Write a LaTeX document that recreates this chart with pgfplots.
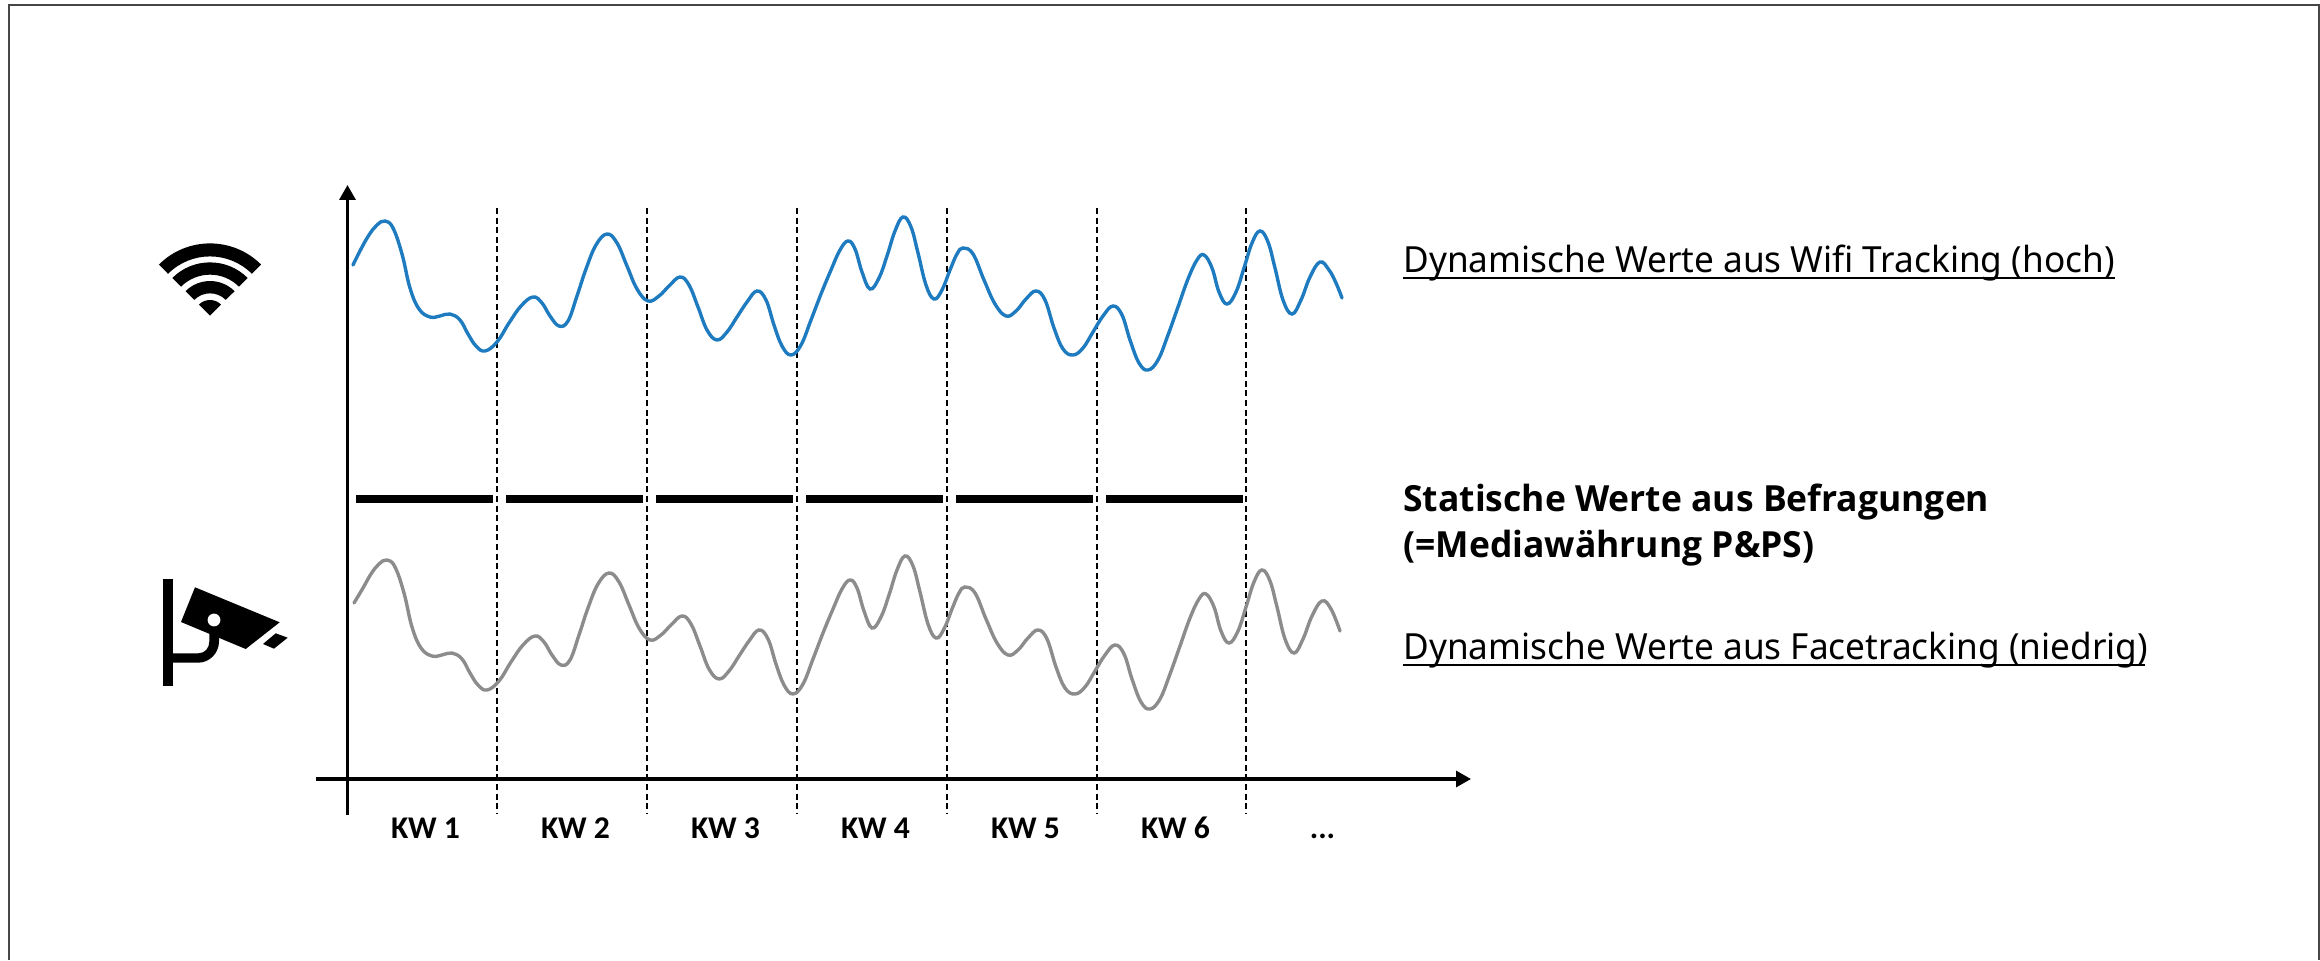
\documentclass[border=0pt]{standalone}
\usepackage{fontspec}
\usepackage{pgfplots}
\usepackage{pgfplotstable}
\pgfplotsset{compat=1.18}
\usetikzlibrary{arrows.meta}
\setmainfont{Noto Sans}
\newfontfamily\labelfont[FakeStretch=0.978]{Noto Sans}
\newfontfamily\headfont[FakeStretch=0.985]{Open Sans}
\newfontfamily\kwfont{Carlito}
\definecolor{wifiblue}{HTML}{1F7BBF}
\definecolor{facegray}{HTML}{8C8C8C}

% Weekly audience curve measured by wifi tracking
\pgfplotstableread{
x y
353 265
361 249
369 235
377 225
385 221
393 228
402 254
410 288
419 309
430 317
440 316
450 314
460 320
468 334
476 346
485 351
497 342
509 323
521 306
533 297
542 303
550 316
559 326
568 321
577 296
586 269
596 245
607 234
617 243
627 266
637 289
648 301
659 296
669 286
680 277
689 285
698 307
707 330
717 340
727 332
737 317
747 302
757 291
766 300
774 325
782 346
791 355
801 345
811 320
821 294
831 270
840 250
848 241
855 249
862 272
870 289
879 278
887 256
895 231
903 217
911 227
918 253
926 285
934 299
942 290
950 270
957 254
963 248
973 254
984 280
995 304
1006 316
1016 311
1026 299
1036 291
1045 300
1054 328
1063 349
1073 355
1083 348
1093 332
1103 316
1113 306
1122 315
1130 340
1139 363
1148 370
1158 360
1168 335
1178 307
1188 279
1197 260
1204 255
1212 268
1219 292
1227 304
1236 292
1244 268
1252 243
1260 231
1268 242
1275 268
1283 300
1292 314
1301 300
1310 277
1320 262
1329 270
1336 283
1342 298
}\wifitable

% Weekly audience curve measured by face tracking
\pgfplotstableread{
x y
354 603
363 588
371 574
379 564
387 560
395 567
404 593
412 627
421 648
432 656
442 655
452 653
462 659
470 673
478 685
487 690
499 681
511 662
523 645
535 636
544 642
552 655
561 665
570 660
579 635
588 608
598 584
609 573
619 582
629 605
639 628
650 640
661 635
671 625
682 616
691 624
700 646
709 669
719 679
729 671
739 656
749 641
759 630
768 639
776 664
784 685
793 694
803 684
813 659
823 633
833 609
842 589
850 580
857 588
864 611
872 628
881 617
889 595
897 570
905 556
913 566
920 592
928 624
936 638
944 629
952 609
959 593
965 587
975 593
986 619
997 643
1008 655
1018 650
1028 638
1038 630
1047 639
1056 667
1065 688
1075 694
1085 687
1095 671
1105 655
1115 645
1124 654
1132 679
1141 702
1150 709
1160 699
1170 674
1180 646
1190 618
1199 599
1206 594
1214 607
1221 631
1229 643
1238 631
1246 607
1254 582
1262 570
1270 581
1277 607
1285 639
1294 653
1303 639
1312 616
1322 601
1331 609
1340 631
}\facetable

% One band of the wifi symbol: outer radius, its offset, inner radius, its offset
\newcommand{\wifiband}[4]{%
  \fill (axis cs:{210-#2},{315.7-#2}) arc[start angle=135,end angle=45,radius=#1*0.5pt]
    -- (axis cs:{210+#4},{315.7-#4}) arc[start angle=45,end angle=135,radius=#3*0.5pt] -- cycle;}
% Week label on the common baseline
\newcommand{\weeklabel}[2]{%
  \node[anchor=base, inner sep=0pt, font=\kwfont\bfseries\fontsize{15.8}{18}\selectfont] at (axis cs:#1,838.5) {#2};}

\begin{document}
\begin{tikzpicture}
\begin{axis}[
  scale only axis, x=0.5pt, y=0.5pt, y dir=reverse,
  xmin=0, xmax=2320, ymin=0, ymax=960,
  hide axis, clip=false,
]
% page extent
\path (axis cs:0,0) rectangle (axis cs:2320,960);

% frame
\addplot[draw=black!72, line width=1pt] coordinates {(9,960) (9,5) (2319,5) (2319,960)};

% week separators
\pgfplotsinvokeforeach{497,647,797,947,1097,1246}{
  \addplot[black, line width=0.7pt, dash pattern=on 3pt off 1.8pt] coordinates {(#1,208) (#1,814)};
}

% measured curves
\addplot[wifiblue, line width=1.7pt, smooth, tension=0.68, line cap=round] table[x=x,y=y] {\wifitable};
\addplot[facegray, line width=1.7pt, smooth, tension=0.68, line cap=round] table[x=x,y=y] {\facetable};

% survey value per week
\addplot[black, line width=4.2pt] coordinates {(356,499) (493,499)};
\addplot[black, line width=4.2pt] coordinates {(506,499) (643,499)};
\addplot[black, line width=4.2pt] coordinates {(656,499) (793,499)};
\addplot[black, line width=4.2pt] coordinates {(806,499) (943,499)};
\addplot[black, line width=4.2pt] coordinates {(956,499) (1093,499)};
\addplot[black, line width=4.2pt] coordinates {(1106,499) (1243,499)};

% axes with arrow heads
\addplot[black, line width=1.65pt, -{Triangle[length=7.5pt,width=8pt]}] coordinates {(347.5,815) (347.5,185)};
\addplot[black, line width=1.65pt, -{Triangle[length=7.5pt,width=8pt]}] coordinates {(316,779) (1471,779)};

% week labels
\weeklabel{425.5}{KW 1}
\weeklabel{575.5}{KW 2}
\weeklabel{725.5}{KW 3}
\weeklabel{875.5}{KW 4}
\weeklabel{1025.5}{KW 5}
\weeklabel{1175.5}{KW 6}
\weeklabel{1322.5}{...}

% series descriptions
\node[anchor=base west, inner sep=0pt, font=\labelfont\fontsize{18}{22}\selectfont] at (axis cs:1403,272.7) {Dynamische Werte aus Wifi Tracking (hoch)};
\addplot[black, line width=1pt] coordinates {(1403,278) (2115,278)};
\node[anchor=base west, inner sep=0pt, font=\headfont\bfseries\fontsize{18}{22}\selectfont] at (axis cs:1403,511.7) {Statische Werte aus Befragungen};
\node[anchor=base west, inner sep=0pt, font=\headfont\bfseries\fontsize{18}{22}\selectfont] at (axis cs:1403,557.3) {(=Mediawährung P\&PS)};
\node[anchor=base west, inner sep=0pt, font=\labelfont\fontsize{18}{22}\selectfont] at (axis cs:1403,659.3) {Dynamische Werte aus Facetracking (niedrig)};
\addplot[black, line width=1pt] coordinates {(1403,665.5) (2145,665.5)};

% wifi symbol
\wifiband{72.3}{51.1}{59.3}{41.9}
\wifiband{53.3}{37.7}{41}{29}
\wifiband{34.7}{24.5}{22.3}{15.8}
\fill (axis cs:198.9,304.6) arc[start angle=135,end angle=45,radius=7.85pt] -- (axis cs:210,315.7) -- cycle;

% camera symbol
\fill (axis cs:163.3,578.7) rectangle (axis cs:173,686);
\fill (axis cs:173,653.3) -- (axis cs:198.3,653.3)
  .. controls (axis cs:205,653.3) and (axis cs:209.3,648) .. (axis cs:209.3,641.7)
  -- (axis cs:209.3,633.3) -- (axis cs:219,636.7) -- (axis cs:219,641.7)
  .. controls (axis cs:219,653) and (axis cs:209.5,662.7) .. (axis cs:198.3,662.7)
  -- (axis cs:173,662.7) -- cycle;
\fill (axis cs:195,587.3) -- (axis cs:279.7,622.3) -- (axis cs:245.7,649) -- (axis cs:181,622) -- cycle;
\fill[white] (axis cs:214,620) circle[radius=3.2pt];
\fill (axis cs:275.7,633.3) -- (axis cs:287.7,637.7) -- (axis cs:274,648.7) -- (axis cs:263,644) -- cycle;
\end{axis}
\end{tikzpicture}
\end{document}
